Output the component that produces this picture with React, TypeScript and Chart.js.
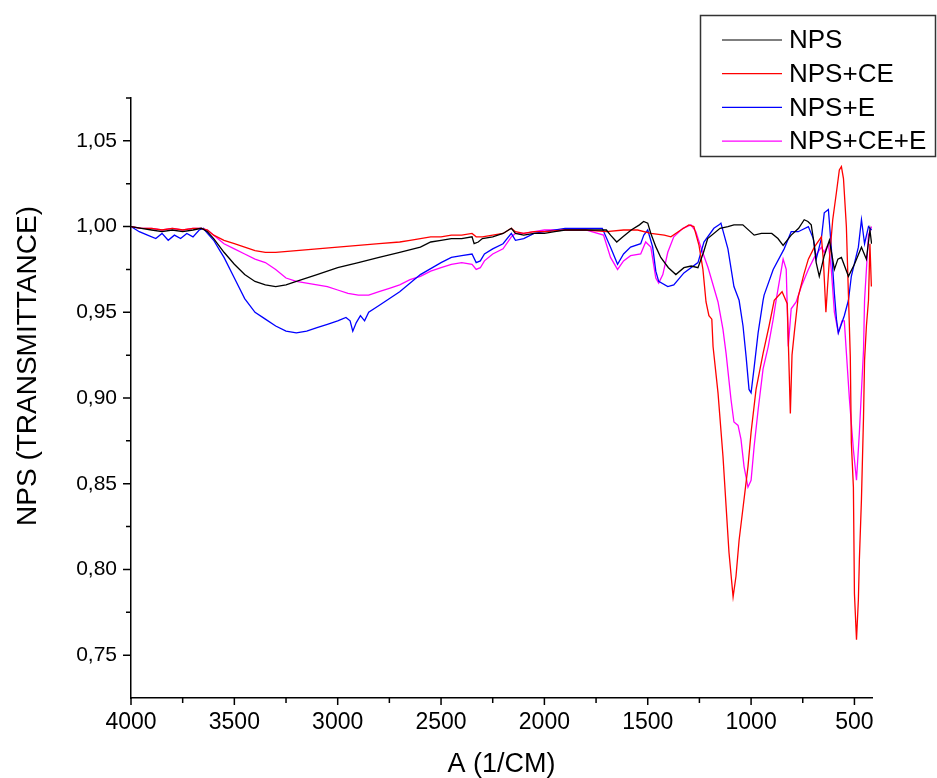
import React, { useEffect, useRef } from "react";
import { Chart, registerables } from "chart.js";

Chart.register(...registerables);

const seriesNames = ["NPS", "NPS+CE", "NPS+E", "NPS+CE+E"];
const seriesColors = ["#000000", "#ff0000", "#0000ff", "#ff00ff"];

const xTickValues = [4000, 3500, 3000, 2500, 2000, 1500, 1000, 500];
const xMinorTicks = [3750, 3250, 2750, 2250, 1750, 1250, 750];
const yTickValues = [0.75, 0.8, 0.85, 0.9, 0.95, 1.0, 1.05];
const yMinorTicks = [0.775, 0.825, 0.875, 0.925, 0.975, 1.025, 1.075];

const npsWn = [4000, 3950, 3900, 3850, 3800, 3750, 3700, 3660, 3630, 3600, 3550, 3500, 3450, 3400, 3350, 3300, 3250, 3200, 3100, 3000, 2900, 2800, 2700, 2600, 2550, 2500, 2450, 2400, 2350, 2340, 2320, 2300, 2250, 2200, 2160, 2140, 2100, 2050, 2000, 1950, 1900, 1800, 1700, 1680, 1650, 1620, 1580, 1540, 1520, 1500, 1485, 1460, 1437, 1400, 1364, 1325, 1290, 1257, 1230, 1210, 1150, 1112, 1083, 1040, 985, 950, 900, 870, 845, 806, 770, 743, 725, 709, 695, 685, 670, 646, 621, 597, 580, 563, 529, 500, 466, 442, 425, 417];
const npsT = [1.0, 0.999, 0.998, 0.997, 0.998, 0.997, 0.998, 0.999, 0.997, 0.993, 0.985, 0.978, 0.972, 0.968, 0.966, 0.965, 0.966, 0.968, 0.972, 0.976, 0.979, 0.982, 0.985, 0.988, 0.991, 0.992, 0.993, 0.993, 0.994, 0.99, 0.991, 0.993, 0.994, 0.996, 0.999, 0.996, 0.995, 0.996, 0.996, 0.997, 0.998, 0.998, 0.998, 0.995, 0.991, 0.994, 0.998, 1.001, 1.003, 1.002, 0.996, 0.988, 0.982, 0.976, 0.972, 0.976, 0.977, 0.976, 0.985, 0.993, 0.999, 1.0, 1.001, 1.001, 0.995, 0.996, 0.996, 0.993, 0.989, 0.995, 0.999, 1.004, 1.003, 1.001, 0.99, 0.979, 0.971, 0.983, 0.992, 0.975, 0.981, 0.982, 0.971, 0.978, 0.988, 0.981, 0.998, 0.99];

const ceWn = [4000, 3950, 3900, 3850, 3800, 3750, 3700, 3660, 3630, 3600, 3550, 3500, 3450, 3400, 3350, 3300, 3200, 3100, 3000, 2900, 2800, 2700, 2650, 2600, 2550, 2500, 2450, 2400, 2350, 2330, 2300, 2250, 2200, 2160, 2140, 2100, 2050, 2000, 1900, 1800, 1700, 1617, 1549, 1485, 1420, 1388, 1340, 1301, 1277, 1252, 1233, 1218, 1204, 1190, 1184, 1160, 1136, 1121, 1107, 1087, 1073, 1058, 1039, 1015, 1000, 976, 942, 913, 888, 850, 825, 818, 810, 802, 791, 772, 745, 723, 694, 660, 650, 638, 630, 621, 605, 587, 573, 563, 553, 539, 529, 520, 515, 505, 500, 490, 481, 476, 466, 456, 451, 442, 432, 425, 418];
const ceT = [1.0, 0.999, 0.999, 0.998, 0.999, 0.998, 0.999, 0.999, 0.998, 0.995, 0.992, 0.99, 0.988, 0.986, 0.985, 0.985, 0.986, 0.987, 0.988, 0.989, 0.99, 0.991, 0.992, 0.993, 0.994, 0.994, 0.995, 0.995, 0.996, 0.994, 0.994, 0.995, 0.996, 0.999, 0.997, 0.996, 0.997, 0.997, 0.998, 0.998, 0.997, 0.998, 0.998, 0.996, 0.995, 0.994, 0.998, 1.001, 1.0, 0.989, 0.975, 0.956, 0.948, 0.946, 0.93, 0.903, 0.866, 0.837, 0.81, 0.784, 0.796, 0.817, 0.836, 0.86, 0.88, 0.905, 0.926, 0.942, 0.957, 0.962, 0.955, 0.925, 0.891, 0.925, 0.938, 0.959, 0.972, 0.981, 0.988, 0.994, 0.98, 0.95, 0.965, 0.981, 1.004, 1.02, 1.033, 1.035, 1.028, 1.0, 0.96, 0.924, 0.874, 0.848, 0.786, 0.759, 0.782, 0.806, 0.841, 0.889, 0.922, 0.942, 0.957, 0.99, 0.965];

const eWn = [4000, 3960, 3920, 3880, 3850, 3820, 3790, 3760, 3730, 3700, 3670, 3650, 3630, 3600, 3570, 3550, 3500, 3450, 3400, 3350, 3300, 3250, 3200, 3150, 3100, 3050, 3000, 2960, 2940, 2927, 2910, 2890, 2870, 2850, 2800, 2700, 2600, 2500, 2450, 2400, 2350, 2330, 2310, 2290, 2250, 2200, 2160, 2140, 2100, 2050, 2000, 1900, 1800, 1720, 1680, 1646, 1617, 1583, 1534, 1519, 1500, 1476, 1461, 1447, 1403, 1374, 1325, 1257, 1228, 1180, 1155, 1146, 1112, 1083, 1058, 1039, 1024, 1010, 1000, 985, 966, 942, 937, 893, 840, 806, 772, 723, 699, 685, 660, 646, 626, 612, 597, 587, 578, 549, 529, 515, 481, 466, 451, 432, 417];
const eT = [1.0, 0.997, 0.995, 0.993, 0.996, 0.992, 0.995, 0.993, 0.996, 0.994, 0.998, 0.999, 0.996, 0.992, 0.986, 0.982, 0.97, 0.958, 0.95, 0.946, 0.942, 0.939, 0.938, 0.939, 0.941, 0.943, 0.945, 0.947, 0.945, 0.939, 0.944, 0.948, 0.945, 0.95, 0.954, 0.962, 0.972, 0.979, 0.982, 0.983, 0.984, 0.979, 0.98, 0.984, 0.987, 0.99, 0.996, 0.992, 0.993, 0.996, 0.997, 0.999, 0.999, 0.999, 0.988, 0.978, 0.984, 0.988, 0.99, 0.995, 0.998, 0.988, 0.974, 0.968, 0.965, 0.966, 0.973, 0.979, 0.991, 0.999, 1.001, 1.002, 0.987, 0.965, 0.957, 0.942, 0.924, 0.905, 0.903, 0.918, 0.938, 0.957, 0.96, 0.975, 0.987, 0.997, 0.997, 1.0, 0.993, 0.981, 0.993, 1.008, 1.01, 0.988, 0.961, 0.946, 0.938, 0.948, 0.957, 0.971, 0.988, 1.004, 0.99, 1.0, 0.998];

const ceeWn = [4000, 3950, 3900, 3850, 3800, 3750, 3700, 3660, 3630, 3600, 3550, 3500, 3450, 3400, 3350, 3300, 3250, 3200, 3150, 3100, 3050, 3000, 2950, 2900, 2850, 2800, 2750, 2700, 2650, 2600, 2550, 2500, 2450, 2400, 2350, 2330, 2310, 2290, 2250, 2200, 2160, 2140, 2100, 2050, 2000, 1900, 1800, 1714, 1680, 1646, 1617, 1583, 1534, 1510, 1485, 1461, 1447, 1427, 1403, 1374, 1330, 1291, 1267, 1243, 1208, 1160, 1136, 1121, 1097, 1083, 1063, 1049, 1034, 1015, 1000, 985, 966, 942, 917, 893, 879, 845, 830, 820, 806, 782, 757, 723, 694, 660, 646, 626, 612, 597, 578, 560, 549, 524, 505, 490, 476, 456, 451, 432, 417];
const ceeT = [1.0, 0.999, 0.999, 0.998, 0.999, 0.998, 0.999, 0.999, 0.998, 0.995, 0.99, 0.987, 0.984, 0.981, 0.979, 0.975, 0.97, 0.968, 0.967, 0.966, 0.965, 0.963, 0.961, 0.96, 0.96, 0.962, 0.964, 0.966, 0.969, 0.971, 0.974, 0.976, 0.978, 0.979, 0.978, 0.975, 0.976, 0.98, 0.984, 0.987, 0.994, 0.996, 0.996, 0.997, 0.998, 0.998, 0.998, 0.995, 0.982, 0.975, 0.98, 0.983, 0.984, 0.991, 0.988, 0.97, 0.967, 0.972, 0.985, 0.994, 0.999, 1.001, 0.997, 0.988, 0.976, 0.956, 0.94, 0.926, 0.899, 0.886, 0.884, 0.876, 0.86, 0.848, 0.852, 0.872, 0.893, 0.917, 0.93, 0.946, 0.957, 0.981, 0.975, 0.93, 0.952, 0.956, 0.965, 0.975, 0.982, 0.988, 0.985, 0.99, 0.975, 0.95, 0.938, 0.945, 0.945, 0.899, 0.87, 0.852, 0.88, 0.928, 0.957, 0.995, 1.0];

const FONT = '"Liberation Sans", Arial, sans-serif';

const toPoints = (wn: number[], t: number[]) => wn.map((w, i) => ({ x: w, y: t[i] }));

const decorPlugin = {
  id: "decor",
  afterDraw(chart: any) {
    const ctx = chart.ctx;
    const xs = chart.scales.x;
    const ys = chart.scales.y;
    const area = chart.chartArea;
    ctx.save();
    ctx.strokeStyle = "#000";
    ctx.lineWidth = 1.5;
    ctx.beginPath();
    xTickValues.forEach((v) => {
      const p = xs.getPixelForValue(v);
      ctx.moveTo(p, area.bottom);
      ctx.lineTo(p, area.bottom + 7);
    });
    xMinorTicks.forEach((v) => {
      const p = xs.getPixelForValue(v);
      ctx.moveTo(p, area.bottom);
      ctx.lineTo(p, area.bottom + 5);
    });
    yTickValues.forEach((v) => {
      const p = ys.getPixelForValue(v);
      ctx.moveTo(area.left - 8, p);
      ctx.lineTo(area.left, p);
    });
    yMinorTicks.forEach((v) => {
      const p = ys.getPixelForValue(v);
      ctx.moveTo(area.left - 5, p);
      ctx.lineTo(area.left, p);
    });
    ctx.stroke();

    // y axis title
    ctx.fillStyle = "#000";
    ctx.font = `28px ${FONT}`;
    ctx.textAlign = "center";
    ctx.textBaseline = "middle";
    ctx.translate(28, 366);
    ctx.rotate(-Math.PI / 2);
    ctx.fillText("NPS (TRANSMITTANCE)", 0, 0);
    ctx.restore();

    // legend box
    ctx.save();
    ctx.fillStyle = "#fff";
    ctx.fillRect(700, 15, 236, 142);
    ctx.strokeStyle = "#333";
    ctx.lineWidth = 1.5;
    ctx.strokeRect(700.5, 15.5, 235, 141);
    ctx.font = `26px ${FONT}`;
    ctx.textAlign = "left";
    ctx.textBaseline = "middle";
    chart.data.datasets.forEach((ds: any, i: number) => {
      const y = 40 + i * 33.7;
      ctx.strokeStyle = ds.borderColor;
      ctx.lineWidth = 1.2;
      ctx.beginPath();
      ctx.moveTo(722, y);
      ctx.lineTo(782, y);
      ctx.stroke();
      ctx.fillStyle = "#000";
      ctx.fillText(ds.label, 789, y + 1);
    });
    ctx.restore();
  },
};

export default function App() {
  const ref = useRef<HTMLCanvasElement>(null);

  useEffect(() => {
    if (!ref.current) return;
    const allWn = [npsWn, ceWn, eWn, ceeWn];
    const allT = [npsT, ceT, eT, ceeT];
    const chart = new Chart(ref.current, {
      type: "line",
      data: {
        datasets: seriesNames.map((name, i) => ({
          label: name,
          data: toPoints(allWn[i], allT[i]),
          borderColor: seriesColors[i],
          backgroundColor: seriesColors[i],
          borderWidth: 1.3,
          pointRadius: 0,
          tension: 0,
          fill: false,
        })),
      },
      options: {
        responsive: false,
        animation: false,
        layout: { padding: { top: 98, right: 65, left: 0, bottom: 0 } },
        plugins: {
          legend: { display: false },
          tooltip: { enabled: false },
        },
        scales: {
          x: {
            type: "linear",
            reverse: true,
            min: 415,
            max: 4000,
            afterFit: (s: any) => {
              s.height = 80;
            },
            afterBuildTicks: (s: any) => {
              s.ticks = xTickValues.map((v) => ({ value: v }));
            },
            grid: { display: true, drawOnChartArea: false, drawTicks: false },
            border: { display: true, color: "#000", width: 1.5 },
            ticks: {
              padding: 11,
              color: "#000",
              font: { family: FONT, size: 23 },
              maxRotation: 0,
              autoSkip: false,
              callback: (v: any) => String(v),
            },
            title: {
              display: true,
              text: "A (1/CM)",
              color: "#000",
              font: { family: FONT, size: 27, lineHeight: 1 },
              padding: { top: 0, bottom: 0 },
            },
          },
          y: {
            type: "linear",
            min: 0.725,
            max: 1.075,
            afterFit: (s: any) => {
              s.width = 131;
            },
            afterBuildTicks: (s: any) => {
              s.ticks = yTickValues.map((v) => ({ value: v }));
            },
            grid: { display: true, drawOnChartArea: false, drawTicks: false },
            border: { display: true, color: "#000", width: 1.5 },
            ticks: {
              padding: 14,
              color: "#000",
              font: { family: FONT, size: 21 },
              autoSkip: false,
              callback: (v: any) => Number(v).toFixed(2).replace(".", ","),
            },
          },
        },
      },
      plugins: [decorPlugin],
    });
    return () => chart.destroy();
  }, []);

  return (
    <div style={{ position: "fixed", left: 0, top: 0, width: 937, height: 778, background: "#fff" }}>
      <canvas ref={ref} width={937} height={778} />
    </div>
  );
}
